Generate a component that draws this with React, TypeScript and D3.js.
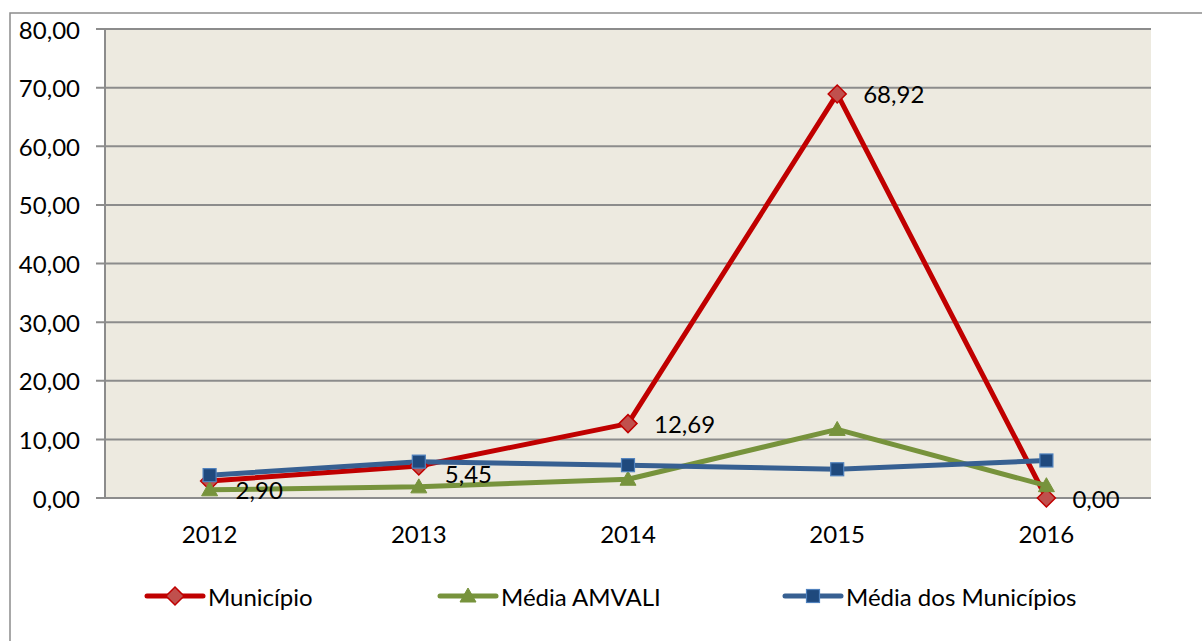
import React from "react";
import * as d3 from "d3";

const years = ["2012", "2013", "2014", "2015", "2016"];
const municipio = [2.9, 5.45, 12.69, 68.92, 0.0];
const mediaAmvali = [1.4, 1.9, 3.2, 11.7, 2.1];
const mediaMunicipios = [3.9, 6.2, 5.6, 4.9, 6.4];
const yTicks = [0, 10, 20, 30, 40, 50, 60, 70, 80];
const seriesNames = ["Município", "Média AMVALI", "Média dos Municípios"];

const W = 1202;
const H = 641;
const plot = { left: 105, right: 1151, top: 29, bottom: 498 };
const FONT = "Lato, 'Open Sans', sans-serif";
const FS = 24;

const fmt = (v: number) => v.toFixed(2).replace(".", ",");

function Marker({ kind, x, y }: { kind: string; x: number; y: number }) {
  if (kind === "diamond") {
    const r = 9;
    return (
      <path
        d={`M${x},${y - r}L${x + r},${y}L${x},${y + r}L${x - r},${y}Z`}
        fill="#C0504D"
        stroke="#C00000"
        strokeWidth={1.5}
      />
    );
  }
  if (kind === "triangle") {
    const r = 8;
    return (
      <path
        d={`M${x},${y - r}L${x + r},${y + r * 0.75}L${x - r},${y + r * 0.75}Z`}
        fill="#77933C"
        stroke="#77933C"
        strokeWidth={1}
      />
    );
  }
  const s = 13;
  return (
    <rect
      x={x - s / 2}
      y={y - s / 2}
      width={s}
      height={s}
      fill="#1F497D"
      stroke="#4F81BD"
      strokeWidth={1.2}
    />
  );
}

export default function App() {
  const x = d3
    .scaleBand<string>()
    .domain(years)
    .range([plot.left, plot.right]);
  const y = d3.scaleLinear().domain([0, 80]).range([plot.bottom, plot.top]);
  const cx = (i: number) => (x(years[i]) as number) + x.bandwidth() / 2;

  const series = [
    { name: seriesNames[0], values: municipio, color: "#C00000", marker: "diamond" },
    { name: seriesNames[1], values: mediaAmvali, color: "#77933C", marker: "triangle" },
    { name: seriesNames[2], values: mediaMunicipios, color: "#376092", marker: "square" },
  ];

  const line = (vals: number[]) =>
    d3
      .line<number>()
      .x((_, i) => cx(i))
      .y((v) => y(v))(vals) as string;

  const legendItems = [
    { x: 147, s: series[0] },
    { x: 440, s: series[1] },
    { x: 785, s: series[2] },
  ];

  return (
    <svg
      width={W}
      height={H}
      style={{ position: "absolute", left: 0, top: 0, display: "block" }}
      fontFamily={FONT}
    >
      <rect x={0} y={0} width={W} height={H} fill="#ffffff" />
      <rect x={10} y={13} width={W + 20} height={H + 20} fill="#ffffff" stroke="#8C8C8C" strokeWidth={1.5} />
      <rect
        x={plot.left}
        y={plot.top}
        width={plot.right - plot.left}
        height={plot.bottom - plot.top}
        fill="#EDEAE0"
      />
      {yTicks.map((t) => (
        <g key={t}>
          <line
            x1={plot.left - 9}
            x2={plot.right}
            y1={y(t)}
            y2={y(t)}
            stroke="#8C8C8C"
            strokeWidth={2}
          />
          <text
            x={80}
            y={y(t)}
            textAnchor="end"
            dominantBaseline="central"
            fontSize={FS}
            fill="#000"
          >
            {fmt(t)}
          </text>
        </g>
      ))}
      <line x1={plot.left} x2={plot.left} y1={plot.top} y2={plot.bottom} stroke="#8C8C8C" strokeWidth={2} />
      {years.map((yr, i) => (
        <text
          key={yr}
          x={cx(i)}
          y={533}
          textAnchor="middle"
          dominantBaseline="central"
          fontSize={FS}
          fill="#000"
        >
          {yr}
        </text>
      ))}
      {series.map((s) => (
        <path
          key={s.name}
          d={line(s.values)}
          fill="none"
          stroke={s.color}
          strokeWidth={5}
          strokeLinejoin="round"
          strokeLinecap="round"
        />
      ))}
      {series.map((s) =>
        s.values.map((v, i) => <Marker key={s.name + i} kind={s.marker} x={cx(i)} y={y(v)} />)
      )}
      {series[0].values.map((v, i) => (
        <text
          key={"lbl" + i}
          x={cx(i) + 26}
          y={y(v) + (i === 0 ? 9 : i === 1 ? 7 : 0)}
          dominantBaseline="central"
          fontSize={FS}
          fill="#000"
        >
          {fmt(v)}
        </text>
      ))}
      {legendItems.map(({ x: lx, s }) => (
        <g key={s.name}>
          <line
            x1={lx}
            x2={lx + 56}
            y1={596}
            y2={596}
            stroke={s.color}
            strokeWidth={5}
            strokeLinecap="round"
          />
          <Marker kind={s.marker} x={lx + 28} y={596} />
          <text x={lx + 61} y={596} dominantBaseline="central" fontSize={FS} fill="#000">
            {s.name}
          </text>
        </g>
      ))}
    </svg>
  );
}
